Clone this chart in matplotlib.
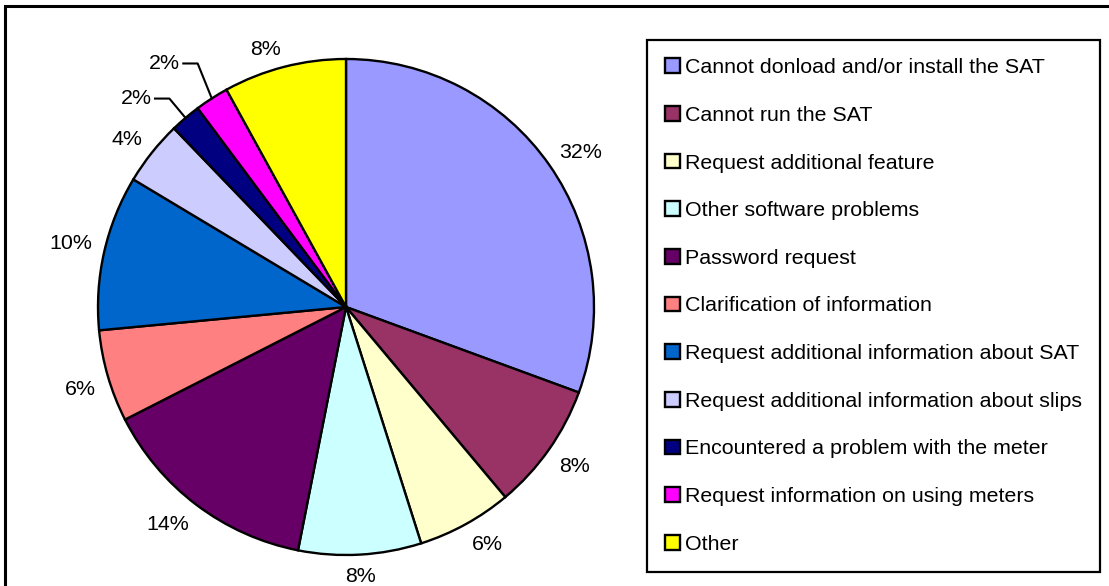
import numpy as np
import matplotlib.pyplot as plt
from matplotlib.patches import Rectangle

plt.rcParams['font.family'] = ['Liberation Sans', 'DejaVu Sans']

categories = [
    'Cannot donload and/or install the SAT',
    'Cannot run the SAT',
    'Request additional feature',
    'Other software problems',
    'Password request',
    'Clarification of information',
    'Request additional information about SAT',
    'Request additional information about slips',
    'Encountered a problem with the meter',
    'Request information on using meters',
    'Other',
]
# slice shares as drawn, and the printed labels
shares = [30.6, 8.3, 6.2, 8.0, 14.4, 6.0, 10.1, 4.2, 2.0, 2.2, 8.0]
pct_labels = ['32%', '8%', '6%', '8%', '14%', '6%', '10%', '4%', '2%', '2%', '8%']
colors = ['#9999FF', '#993366', '#FFFFCC', '#CCFFFF', '#660066', '#FF8080',
          '#0066CC', '#CCCCFF', '#000080', '#FF00FF', '#FFFF00']

W, H = 1109, 586
fs = 15.4

fig = plt.figure(figsize=(W / 100, H / 100), dpi=100)

# outer chart frame, runs off the right and bottom edge
fig.add_artist(Rectangle((5 / W, -0.2), 1.5, 1 - 6 / H + 0.2, transform=fig.transFigure,
                         fill=False, edgecolor='black', linewidth=2.2))

cx, cy, R = 346, 307, 248
ax = fig.add_axes([(cx - R) / W, (H - cy - R) / H, 2 * R / W, 2 * R / H])
wedges, _ = ax.pie(shares, colors=colors, startangle=90, counterclock=False,
                   wedgeprops=dict(edgecolor='black', linewidth=1.7))
ax.set_xlim(-1, 1)
ax.set_ylim(-1, 1)
ax.axis('off')

# the two thin slices get a leader line (elbow offset from the rim, in radii)
leaders = {8: (-0.065, 0.078), 9: (-0.057, 0.141)}
for i, (w, lab) in enumerate(zip(wedges, pct_labels)):
    ang = np.deg2rad((w.theta1 + w.theta2) / 2)
    ux, uy = np.cos(ang), np.sin(ang)
    if i in leaders:
        ox, oy = leaders[i]
        kx, ky = ux + ox, uy + oy
        ax.plot([ux, kx, kx - 0.058], [uy, ky, ky], color='black', lw=1.5,
                clip_on=False)
        ax.text(kx - 0.07, ky, lab, ha='right', va='center', fontsize=fs)
        continue
    # text corner sits on a point just outside the rim, like the office chart
    ha = 'center' if abs(ux) < 0.15 else ('left' if ux > 0 else 'right')
    va = 'center' if abs(uy) < 0.15 else ('baseline' if uy > 0 else 'top')
    ax.text(1.05 * ux, 1.05 * uy, lab, ha=ha, va=va, fontsize=fs)

leg = fig.legend(wedges, categories, loc='upper left',
                 bbox_to_anchor=(647 / W, 1 - 40 / H), borderaxespad=0,
                 fontsize=fs, handlelength=0.68, handleheight=0.68,
                 handletextpad=0.25, labelspacing=1.34, borderpad=0.85,
                 fancybox=False, framealpha=1, edgecolor='black')
leg.get_frame().set_linewidth(1.6)

fig.savefig('out.png', dpi=100)
